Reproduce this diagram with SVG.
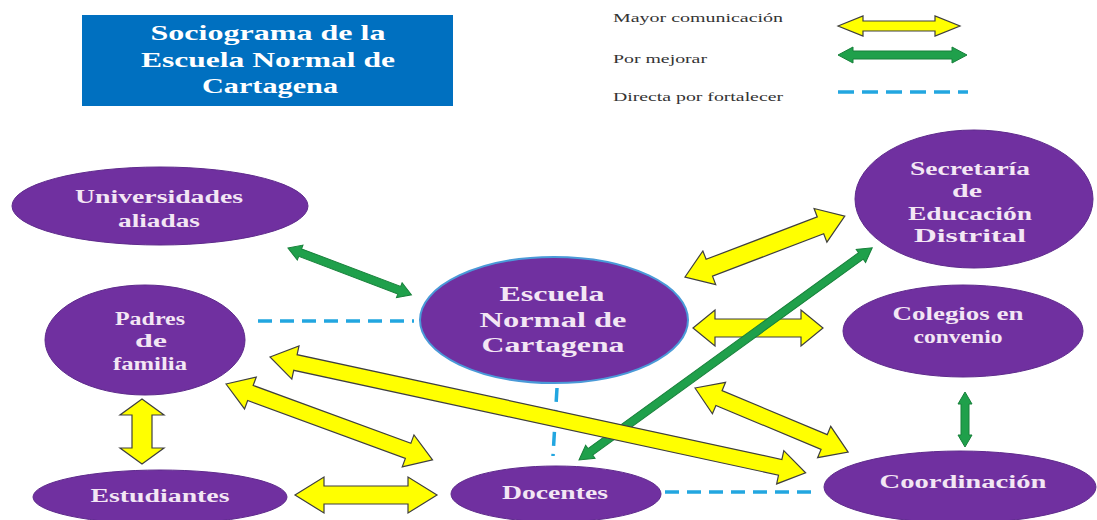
<svg xmlns="http://www.w3.org/2000/svg" width="1097" height="520" viewBox="0 0 1097 520">
<style>
.node{fill:#7030A0;stroke:#5E2A8C;stroke-width:1}
.nt{font-family:'Liberation Serif','DejaVu Serif',serif;font-weight:bold;font-size:18px;fill:#F3E6F4;text-anchor:middle}
.big{font-size:22px}
.title{font-family:'Liberation Serif','DejaVu Serif',serif;font-weight:bold;font-size:22px;fill:#FFFFFF;text-anchor:middle}
.leg{font-family:'Liberation Serif','DejaVu Serif',serif;font-size:12px;fill:#333333}
.ya{fill:#FFFF00;stroke:#3F3F3F;stroke-width:1.2;stroke-linejoin:miter}
.ga{fill:#1FA04B;stroke:#17803A;stroke-width:1}
.bd{stroke:#22A6E0;stroke-width:3.5;stroke-dasharray:14 8;fill:none}
</style>
<rect width="1097" height="520" fill="#FFFFFF"/>

<g id="title">
<rect x="82" y="15" width="371" height="91" fill="#0070C0"/>
<text class="title" x="268" y="40" textLength="235" lengthAdjust="spacingAndGlyphs">Sociograma de la</text>
<text class="title" x="268" y="67" textLength="254" lengthAdjust="spacingAndGlyphs">Escuela Normal de</text>
<text class="title" x="270" y="93" textLength="136" lengthAdjust="spacingAndGlyphs">Cartagena</text>
</g>

<g id="legend">
<text class="leg" x="613" y="22" textLength="170" lengthAdjust="spacingAndGlyphs">Mayor comunicación</text>
<text class="leg" x="613" y="63" textLength="94" lengthAdjust="spacingAndGlyphs">Por mejorar</text>
<text class="leg" x="613" y="101" textLength="170" lengthAdjust="spacingAndGlyphs">Directa por fortalecer</text>
<path class="ya" transform="translate(838,26)" d="M0,0 L25,-10 L25,-5 L97,-5 L97,-10 L122,0 L97,10 L97,5 L25,5 L25,10 Z"/>
<path class="ga" transform="translate(838,55)" d="M0,0 L15,-8 L15,-4 L114,-4 L114,-8 L129,0 L114,8 L114,4 L15,4 L15,8 Z"/>
<line class="bd" x1="838" y1="92" x2="968" y2="92" style="stroke-dasharray:16 8"/>
</g>

<g id="connectors">
<line class="bd" x1="258" y1="321" x2="414" y2="321"/>
<line class="bd" x1="557" y1="388" x2="553" y2="456"/>
<line class="bd" x1="665" y1="492" x2="815" y2="492"/>
<path class="ga" transform="translate(288,248) rotate(20.76)" d="M0,0 L13,-8 L13,-4 L119,-4 L119,-8 L132,0 L119,8 L119,4 L13,4 L13,8 Z"/>
<path class="ga" transform="translate(965,392) rotate(90)" d="M0,0 L12,-7 L12,-4 L43,-4 L43,-7 L55,0 L43,7 L43,4 L12,4 L12,7 Z"/>
<path class="ya" transform="translate(685,277) rotate(-20.87)" d="M0,0 L26,-18 L26,-9 L145,-9 L145,-18 L171,0 L145,18 L145,9 L26,9 L26,18 Z"/>
<path class="ya" transform="translate(693,328)" d="M0,0 L22,-18 L22,-9 L108,-9 L108,-18 L130,0 L108,18 L108,9 L22,9 L22,18 Z"/>
<path class="ga" transform="translate(579,460) rotate(-35.9)" d="M0,0 L14,-8 L14,-4 L348,-4 L348,-8 L362,0 L348,8 L348,4 L14,4 L14,8 Z"/>
<path class="ya" transform="translate(270,357) rotate(12.2)" d="M0,0 L26,-17 L26,-8 L522,-8 L522,-17 L548,0 L522,17 L522,8 L26,8 L26,17 Z"/>
<path class="ya" transform="translate(226,384) rotate(20.16)" d="M0,0 L26,-17 L26,-8 L194,-8 L194,-17 L220,0 L194,17 L194,8 L26,8 L26,17 Z"/>
<path class="ya" transform="translate(142,399) rotate(90)" d="M0,0 L16,-22 L16,-10 L49,-10 L49,-22 L65,0 L49,22 L49,10 L16,10 L16,22 Z"/>
<path class="ya" transform="translate(295,495)" d="M0,0 L29,-18 L29,-9 L113,-9 L113,-18 L142,0 L113,18 L113,9 L29,9 L29,18 Z"/>
<path class="ya" transform="translate(695,388) rotate(22.7)" d="M0,0 L26,-17 L26,-8 L140,-8 L140,-17 L166,0 L140,17 L140,8 L26,8 L26,17 Z"/>
</g>

<g id="universidades">
<ellipse class="node" cx="160" cy="206" rx="148" ry="39"/>
<text class="nt" x="159" y="203" textLength="168" lengthAdjust="spacingAndGlyphs">Universidades</text>
<text class="nt" x="159" y="227" textLength="82" lengthAdjust="spacingAndGlyphs">aliadas</text>
</g>

<g id="secretaria">
<ellipse class="node" cx="974" cy="199" rx="119" ry="69"/>
<text class="nt" x="970" y="175" textLength="120" lengthAdjust="spacingAndGlyphs">Secretaría</text>
<text class="nt" x="967" y="197" textLength="30" lengthAdjust="spacingAndGlyphs">de</text>
<text class="nt" x="970" y="220" textLength="124" lengthAdjust="spacingAndGlyphs">Educación</text>
<text class="nt" x="970" y="242" textLength="112" lengthAdjust="spacingAndGlyphs">Distrital</text>
</g>

<g id="padres">
<ellipse class="node" cx="145" cy="340" rx="100" ry="55"/>
<text class="nt" x="150" y="325" textLength="70" lengthAdjust="spacingAndGlyphs">Padres</text>
<text class="nt" x="151" y="347" textLength="32" lengthAdjust="spacingAndGlyphs">de</text>
<text class="nt" x="150" y="370" textLength="74" lengthAdjust="spacingAndGlyphs">familia</text>
</g>

<g id="escuela">
<ellipse cx="554" cy="320" rx="134" ry="63" fill="#7030A0" stroke="#4A9AD8" stroke-width="2"/>
<text class="nt big" x="552" y="301" textLength="105" lengthAdjust="spacingAndGlyphs">Escuela</text>
<text class="nt big" x="553" y="327" textLength="147" lengthAdjust="spacingAndGlyphs">Normal de</text>
<text class="nt big" x="553" y="352" textLength="143" lengthAdjust="spacingAndGlyphs">Cartagena</text>
</g>

<g id="colegios">
<ellipse class="node" cx="963" cy="331" rx="120" ry="46"/>
<text class="nt" x="958" y="320" textLength="131" lengthAdjust="spacingAndGlyphs">Colegios en</text>
<text class="nt" x="958" y="343" textLength="89" lengthAdjust="spacingAndGlyphs">convenio</text>
</g>

<g id="estudiantes">
<ellipse class="node" cx="160" cy="497" rx="127" ry="27"/>
<text class="nt" x="160" y="502" textLength="139" lengthAdjust="spacingAndGlyphs">Estudiantes</text>
</g>

<g id="docentes">
<ellipse class="node" cx="556" cy="494" rx="105" ry="28"/>
<text class="nt" x="555" y="499" textLength="106" lengthAdjust="spacingAndGlyphs">Docentes</text>
</g>

<g id="coordinacion">
<ellipse class="node" cx="960" cy="487" rx="136" ry="36"/>
<text class="nt" x="963" y="488" textLength="167" lengthAdjust="spacingAndGlyphs">Coordinación</text>
</g>
</svg>
